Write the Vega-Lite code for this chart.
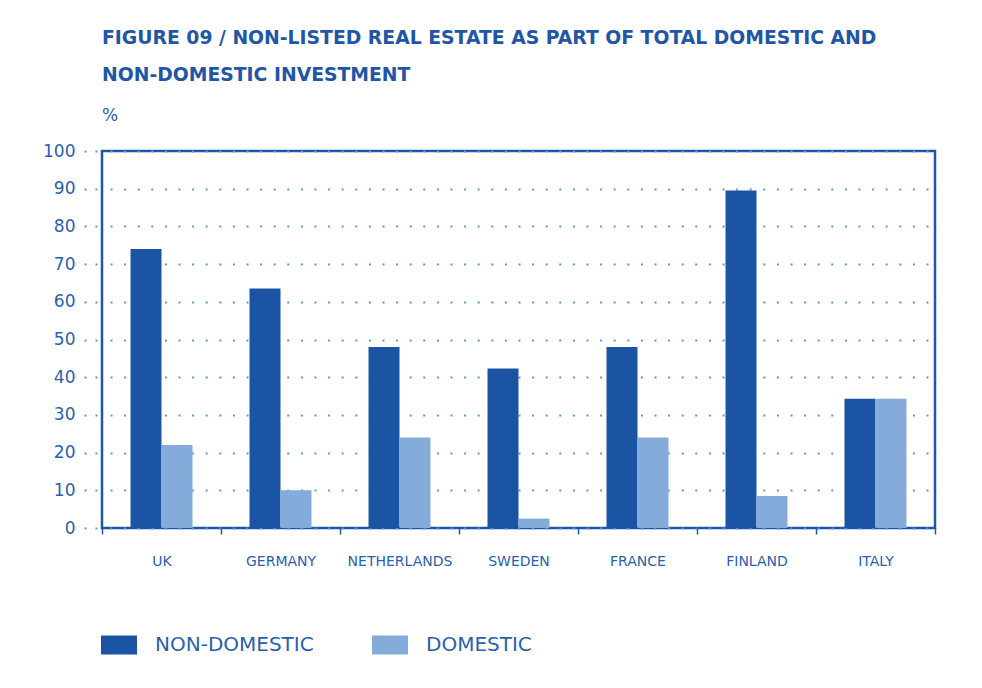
{
  "$schema": "https://vega.github.io/schema/vega-lite/v6.json",
  "autosize": "none",
  "padding": {"left": 102, "top": 151, "right": 47, "bottom": 160},
  "width": 833,
  "height": 377,
  "background": "white",
  "title": {
    "text": ["FIGURE 09 / NON-LISTED REAL ESTATE AS PART OF TOTAL DOMESTIC AND", "NON-DOMESTIC INVESTMENT"],
    "subtitle": "%",
    "anchor": "start",
    "frame": "group",
    "font": "DejaVu Sans",
    "fontWeight": "bold",
    "fontSize": 18.8,
    "lineHeight": 37,
    "color": "#1f56a6",
    "subtitleFont": "DejaVu Sans",
    "subtitleFontSize": 17,
    "subtitleColor": "#2a5fae",
    "subtitlePadding": 23,
    "offset": 18
  },
  "data": {
    "values": [
      {"country": "UK", "type": "NON-DOMESTIC", "value": 74},
      {"country": "UK", "type": "DOMESTIC", "value": 22},
      {"country": "GERMANY", "type": "NON-DOMESTIC", "value": 63.5},
      {"country": "GERMANY", "type": "DOMESTIC", "value": 10},
      {"country": "NETHERLANDS", "type": "NON-DOMESTIC", "value": 48},
      {"country": "NETHERLANDS", "type": "DOMESTIC", "value": 24},
      {"country": "SWEDEN", "type": "NON-DOMESTIC", "value": 42.3},
      {"country": "SWEDEN", "type": "DOMESTIC", "value": 2.5},
      {"country": "FRANCE", "type": "NON-DOMESTIC", "value": 48},
      {"country": "FRANCE", "type": "DOMESTIC", "value": 24},
      {"country": "FINLAND", "type": "NON-DOMESTIC", "value": 89.5},
      {"country": "FINLAND", "type": "DOMESTIC", "value": 8.5},
      {"country": "ITALY", "type": "NON-DOMESTIC", "value": 34.3},
      {"country": "ITALY", "type": "DOMESTIC", "value": 34.3}
    ]
  },
  "mark": {"type": "bar"},
  "encoding": {
    "x": {
      "field": "country",
      "type": "nominal",
      "sort": ["UK", "GERMANY", "NETHERLANDS", "SWEDEN", "FRANCE", "FINLAND", "ITALY"],
      "scale": {"paddingInner": 0, "paddingOuter": 0},
      "axis": {
        "title": null,
        "labelAngle": 0,
        "labelFont": "DejaVu Sans",
        "labelFontSize": 14,
        "labelColor": "#2a5fae",
        "labelPadding": 20,
        "tickBand": "extent",
        "tickSize": 6,
        "tickWidth": 1.5,
        "tickColor": "#1f56a6",
        "domain": false
      }
    },
    "xOffset": {
      "field": "type",
      "sort": ["NON-DOMESTIC", "DOMESTIC"],
      "scale": {"paddingInner": 0, "paddingOuter": 0.92}
    },
    "y": {
      "field": "value",
      "type": "quantitative",
      "scale": {"domain": [0, 100], "nice": false},
      "axis": {
        "title": null,
        "values": [0, 10, 20, 30, 40, 50, 60, 70, 80, 90, 100],
        "labelFont": "DejaVu Sans",
        "labelFontSize": 17,
        "labelColor": "#2a5fae",
        "labelPadding": 9,
        "tickSize": 18,
        "tickWidth": 2,
        "tickColor": "#5b9ad6",
        "tickDash": [2, 9],
        "tickDashOffset": 6,
        "domain": false,
        "grid": true,
        "gridColor": "#5b9ad6",
        "gridWidth": 2,
        "gridDash": [2, 11.6],
        "gridDashOffset": 5.6
      }
    },
    "color": {
      "field": "type",
      "type": "nominal",
      "sort": ["NON-DOMESTIC", "DOMESTIC"],
      "scale": {"domain": ["NON-DOMESTIC", "DOMESTIC"], "range": ["#1b54a2", "#84abd9"]},
      "legend": {
        "title": null,
        "orient": "none",
        "direction": "horizontal",
        "legendX": -1,
        "legendY": 476,
        "symbolType": "M-1,-0.53H1V0.53H-1Z",
        "symbolSize": 1296,
        "symbolStrokeWidth": 0,
        "symbolOpacity": 1,
        "labelFont": "DejaVu Sans",
        "labelFontSize": 20,
        "labelColor": "#2a5fae",
        "labelOffset": 18,
        "columnPadding": 58,
        "labelLimit": 400
      }
    }
  },
  "config": {
    "view": {"stroke": "#1f56a6", "strokeWidth": 2.5},
    "axis": {"ticks": true}
  }
}
